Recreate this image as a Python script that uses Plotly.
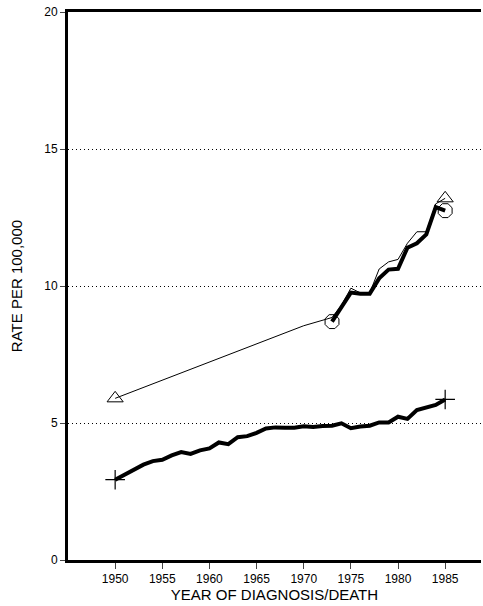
import plotly.graph_objects as go

# Thin series (triangles): incidence
inc_years = [1950, 1970, 1973, 1974, 1975, 1976, 1977, 1978, 1979, 1980, 1981, 1982, 1983, 1984, 1985]
inc_rates = [5.9, 8.55, 8.85, 9.3, 9.92, 9.75, 9.75, 10.62, 10.88, 10.97, 11.56, 11.98, 11.98, 13.0, 13.2]

# Thick series (octagons): 1973-1985
seer_years = [1973, 1974, 1975, 1976, 1977, 1978, 1979, 1980, 1981, 1982, 1983, 1984, 1985]
seer_rates = [8.7, 9.25, 9.76, 9.72, 9.72, 10.28, 10.6, 10.63, 11.4, 11.56, 11.88, 12.88, 12.75]

# Thick lower series (crosses): mortality
mort_years = list(range(1950, 1986))
mort_rates = [2.93, 3.12, 3.31, 3.48, 3.61, 3.66, 3.82, 3.94, 3.87, 4.0, 4.07, 4.29, 4.23, 4.48, 4.52,
              4.64, 4.80, 4.84, 4.83, 4.83, 4.88, 4.85, 4.89, 4.90, 4.99, 4.81, 4.87, 4.90, 5.02, 5.02,
              5.23, 5.15, 5.47, 5.57, 5.66, 5.86]

x_ticks = [1950, 1955, 1960, 1965, 1970, 1975, 1980, 1985]
y_ticks = [0, 5, 10, 15, 20]

fig = go.Figure()

fig.add_trace(go.Scatter(x=inc_years, y=inc_rates, mode="lines",
                         line=dict(color="black", width=1), showlegend=False))
fig.add_trace(go.Scatter(x=seer_years, y=seer_rates, mode="lines",
                         line=dict(color="black", width=4), showlegend=False))
fig.add_trace(go.Scatter(x=mort_years, y=mort_rates, mode="lines",
                         line=dict(color="black", width=4), showlegend=False))

# endpoint markers
fig.add_trace(go.Scatter(x=[inc_years[0], inc_years[-1]], y=[inc_rates[0], inc_rates[-1]], mode="markers",
                         marker=dict(symbol="triangle-up-open", size=14, color="black", line=dict(width=1)),
                         showlegend=False))
fig.add_trace(go.Scatter(x=[seer_years[0], seer_years[-1]], y=[seer_rates[0], seer_rates[-1]], mode="markers",
                         marker=dict(symbol="octagon-open", size=15, color="black", line=dict(width=1)),
                         showlegend=False))
fig.add_trace(go.Scatter(x=[mort_years[0], mort_years[-1]], y=[mort_rates[0], mort_rates[-1]], mode="markers",
                         marker=dict(symbol="cross-thin-open", size=14, color="black", line=dict(width=1.2)),
                         showlegend=False))

fig.update_layout(
    width=483, height=606,
    margin=dict(l=68, r=2, t=12, b=46),
    paper_bgcolor="white", plot_bgcolor="white",
    font=dict(family="Liberation Sans, Arial, sans-serif", color="black"),
    xaxis=dict(range=[1945, 1988.8], tickvals=x_ticks, ticks="outside", ticklen=6, tickwidth=1,
               showline=True, linewidth=3, linecolor="black", mirror=True,
               showgrid=False, zeroline=False,
               tickfont=dict(size=12),
               title=dict(text="YEAR OF DIAGNOSIS/DEATH", font=dict(size=15), standoff=3)),
    yaxis=dict(range=[0, 20], tickvals=y_ticks, ticks="outside", ticklen=5, tickwidth=1,
               showline=True, linewidth=3, linecolor="black", showgrid=True,
               gridcolor="black", gridwidth=1, griddash="1px,3px", zeroline=False,
               tickfont=dict(size=12), ticklabeloverflow="allow",
               title=dict(text="RATE PER 100,000", font=dict(size=15), standoff=18)),
)

fig.write_html("out.html", config={"displayModeBar": False},
               post_script="document.body.style.margin='0';document.body.style.overflow='hidden';")
